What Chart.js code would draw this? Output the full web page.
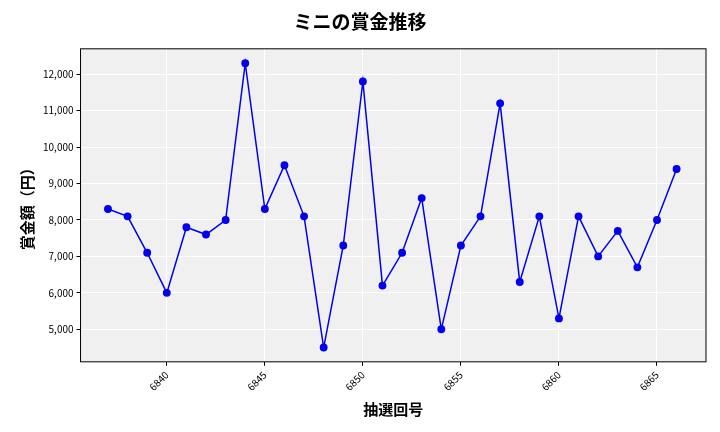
<!DOCTYPE html>
<html><head><meta charset="utf-8">
<script src="https://cdn.jsdelivr.net/npm/chart.js@4"></script>
<style>body{margin:0;background:#fff}#w{width:720px;height:432px}</style>
</head><body><div id="w"><canvas id="c"></canvas></div>
<script>
const draws=[6837,6838,6839,6840,6841,6842,6843,6844,6845,6846,6847,6848,6849,6850,6851,6852,6853,6854,6855,6856,6857,6858,6859,6860,6861,6862,6863,6864,6865,6866];
const prizes=[8300,8100,7100,6000,7800,7600,8000,12300,8300,9500,8100,4500,7300,11800,6200,7100,8600,5000,7300,8100,11200,6300,8100,5300,8100,7000,7700,6700,8000,9400];
const F='"Noto Sans CJK JP"';
const bg={id:'bg',beforeDraw(c){const a=c.chartArea,x=c.ctx;x.save();x.fillStyle='#f0f0f0';x.fillRect(a.left,a.top,a.right-a.left,a.bottom-a.top);x.restore();},
afterDraw(c){const a=c.chartArea,x=c.ctx;x.save();x.strokeStyle='#000';x.lineWidth=1;x.strokeRect(a.left,a.top,a.right-a.left,a.bottom-a.top);x.restore();}};
new Chart(document.getElementById('c'),{type:'line',
data:{datasets:[{data:draws.map((d,i)=>({x:d,y:prizes[i]})),borderColor:'#0000ee',backgroundColor:'#0000ee',borderWidth:1.5,pointRadius:3.2,tension:0}]},
options:{responsive:true,maintainAspectRatio:false,animation:false,
layout:{padding:{left:14,right:14,top:10,bottom:10}},
plugins:{legend:{display:false},title:{display:true,text:'ミニの賞金推移',font:{family:F,size:19,weight:'bold'},color:'#000',padding:{bottom:16}}},
scales:{x:{type:'linear',min:6835.6,max:6867.5,afterBuildTicks(s){s.ticks=[6840,6845,6850,6855,6860,6865].map(v=>({value:v}));},
ticks:{maxRotation:45,minRotation:45,font:{family:F,size:10},color:'#000',callback:v=>String(v)},
grid:{color:'#fff',drawTicks:true,tickColor:'#000',tickLength:4},border:{display:false},
title:{display:true,text:'抽選回号',font:{family:F,size:15,weight:'bold'},color:'#000'}},
y:{min:4108,max:12697,afterBuildTicks(s){s.ticks=[5000,6000,7000,8000,9000,10000,11000,12000].map(v=>({value:v}));},
ticks:{font:{family:F,size:10},color:'#000',callback:v=>v.toLocaleString('en-US')},
grid:{color:'#fff',tickColor:'#000',tickLength:4},border:{display:false},
title:{display:true,text:'賞金額（円）',font:{family:F,size:15,weight:'bold'},color:'#000'}}}},
plugins:[bg]});
</script></body></html>
